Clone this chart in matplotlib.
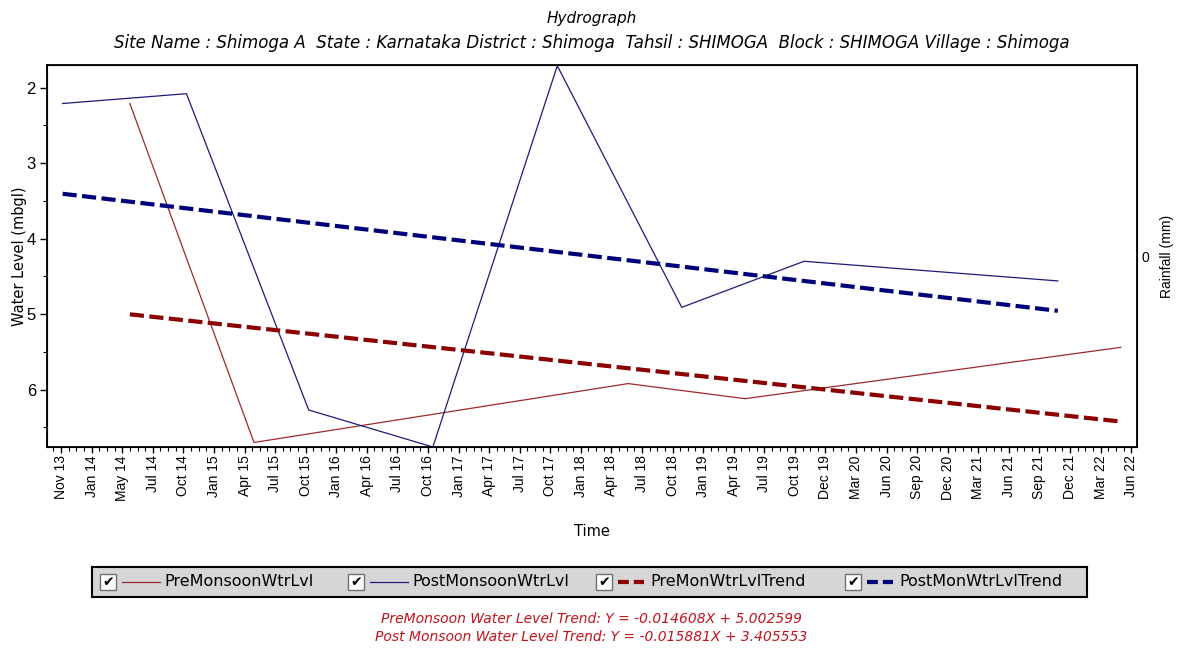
import matplotlib
matplotlib.use("Agg")
import matplotlib.pyplot as plt
from matplotlib.ticker import MultipleLocator, FixedLocator, AutoMinorLocator
from matplotlib.patches import Rectangle

plt.rcParams['font.family'] = ['Liberation Sans', 'DejaVu Sans']

W, H = 1183, 651

# одна подпись на каждый основной тик (шаг ~ 3 месяца)
x_labels = ['Nov 13', 'Jan 14', 'May 14', 'Jul 14', 'Oct 14', 'Jan 15', 'Apr 15', 'Jul 15', 'Oct 15',
            'Jan 16', 'Apr 16', 'Jul 16', 'Oct 16', 'Jan 17', 'Apr 17', 'Jul 17', 'Oct 17', 'Jan 18',
            'Apr 18', 'Jul 18', 'Oct 18', 'Jan 19', 'Apr 19', 'Jul 19', 'Oct 19', 'Dec 19', 'Mar 20',
            'Jun 20', 'Sep 20', 'Dec 20', 'Mar 21', 'Jun 21', 'Sep 21', 'Dec 21', 'Mar 22', 'Jun 22']

# уровни воды (м ниже поверхности), x - в единицах тиков
pre_x = [2.25, 6.31, 18.55, 22.37, 34.66]
pre_y = [2.21, 6.70, 5.92, 6.12, 5.44]
post_x = [0.05, 4.10, 8.10, 12.16, 16.23, 20.30, 24.30, 32.60]
post_y = [2.21, 2.08, 6.27, 6.76, 1.71, 4.91, 4.30, 4.56]

# коэффициенты трендов (X - месяцы от первого замера)
pre_slope, pre_icpt = -0.014608, 5.002599
post_slope, post_icpt = -0.015881, 3.405553
MONTHS_PER_TICK = 3

PRE_COLOR = '#9b2a2a'
POST_COLOR = '#1c1c78'
PRE_TREND = '#8b0000'
POST_TREND = '#00007a'
SANS = 'DejaVu Sans'


def trend(xs, slope, icpt):
    # глубина растёт вниз, поэтому знак наклона меняется
    x0 = xs[0]
    xe = xs[-1]
    me = (xe - x0) * MONTHS_PER_TICK
    return [x0, xe], [icpt, icpt - slope * me]


fig = plt.figure(figsize=(W / 100, H / 100), dpi=100)
fig.patch.set_facecolor('white')
ax = fig.add_axes([47 / W, 1 - 447 / H, (1137 - 47) / W, (447 - 65) / H])

ax.plot(pre_x, pre_y, color=PRE_COLOR, lw=0.9)
ax.plot(post_x, post_y, color=POST_COLOR, lw=0.9)

tx, ty = trend(pre_x, pre_slope, pre_icpt)
ax.plot(tx, ty, color=PRE_TREND, lw=3.0, dashes=(3.4, 1.3))
tx, ty = trend(post_x, post_slope, post_icpt)
ax.plot(tx, ty, color=POST_TREND, lw=3.0, dashes=(3.4, 1.3))

ax.set_xlim(-0.46, 35.19)
ax.set_ylim(6.76, 1.70)

ax.xaxis.set_major_locator(FixedLocator(range(len(x_labels))))
ax.set_xticklabels(x_labels, rotation=90, fontsize=10)
ax.xaxis.set_minor_locator(AutoMinorLocator(4))
ax.yaxis.set_major_locator(MultipleLocator(1))
ax.yaxis.set_minor_locator(MultipleLocator(0.5))
ax.tick_params(axis='y', labelsize=12, length=5, width=1, pad=3)
ax.tick_params(axis='x', length=4.5, width=1, pad=1.5)
ax.tick_params(which='minor', length=3, width=0.8)
for s in ax.spines.values():
    s.set_linewidth(1.3)

ax.set_xlabel('Time', fontsize=10.5, family=SANS, labelpad=17)
ax.set_ylabel('Water Level (mbgl)', fontsize=10.5, family=SANS, labelpad=0)

ax2 = ax.twinx()
ax2.set_ylim(-1, 1)
ax2.set_yticks([0])
ax2.set_yticklabels(['0'], fontsize=10)
ax2.tick_params(axis='y', length=0, pad=3)
ax2.set_ylabel('Rainfall (mm)', fontsize=10, labelpad=8)

fig.text(0.5, 1 - 18 / H, 'Hydrograph', ha='center', va='center', fontsize=11,
         style='italic', family=SANS)
fig.text(0.5, 1 - 43 / H,
         'Site Name : Shimoga A  State : Karnataka District : Shimoga  Tahsil : SHIMOGA  '
         'Block : SHIMOGA Village : Shimoga',
         ha='center', va='center', fontsize=12, style='italic', family=SANS)

# легенда с флажками
leg = fig.add_axes([92 / W, 1 - 597 / H, 995 / W, 30 / H])
leg.set_xlim(0, 995)
leg.set_ylim(0, 30)
leg.set_xticks([])
leg.set_yticks([])
leg.set_facecolor('#d6d6d6')
for s in leg.spines.values():
    s.set_linewidth(1.5)

items = [
    ('PreMonsoonWtrLvl', PRE_COLOR, 0.9, None),
    ('PostMonsoonWtrLvl', POST_COLOR, 0.9, None),
    ('PreMonWtrLvlTrend', PRE_TREND, 3.0, (2.6, 1.2)),
    ('PostMonWtrLvlTrend', POST_TREND, 3.0, (2.6, 1.2)),
]
starts = [8, 256, 504, 753]
for (label, color, lw, dash), x0 in zip(items, starts):
    leg.add_patch(Rectangle((x0, 7), 16, 16, facecolor='white', edgecolor='#707070', lw=1))
    leg.text(x0 + 8, 15, '\u2714', ha='center', va='center', fontsize=10,
             family=SANS, color='black')
    if dash is None:
        leg.plot([x0 + 22, x0 + 60], [15, 15], color=color, lw=lw)
        leg.text(x0 + 64, 15, label, ha='left', va='center', fontsize=11.5, family=SANS)
    else:
        leg.plot([x0 + 22, x0 + 48], [15, 15], color=color, lw=lw, dashes=dash)
        leg.text(x0 + 54, 15, label, ha='left', va='center', fontsize=11.5, family=SANS)

fig.text(0.5, 1 - 619 / H, 'PreMonsoon Water Level Trend: Y = -0.014608X + 5.002599',
         ha='center', va='center', fontsize=10, style='italic', color='#c0141c', family=SANS)
fig.text(0.5, 1 - 637 / H, 'Post Monsoon Water Level Trend: Y = -0.015881X + 3.405553',
         ha='center', va='center', fontsize=10, style='italic', color='#c0141c', family=SANS)

fig.savefig('out.png', dpi=100)
